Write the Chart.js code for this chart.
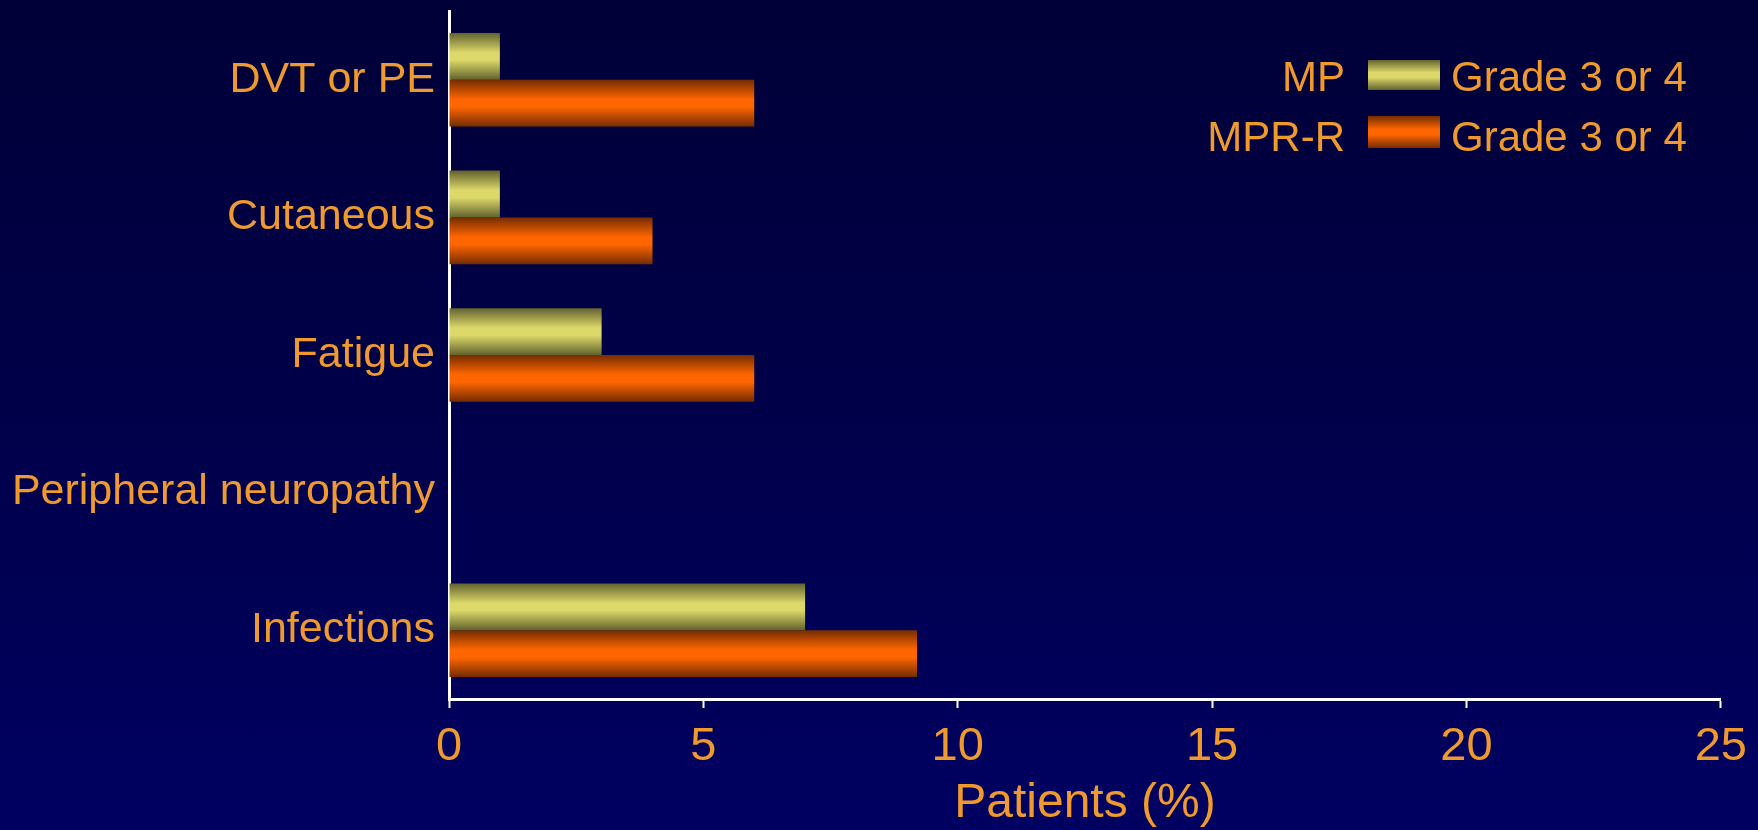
<!DOCTYPE html>
<html>
<head>
<meta charset="utf-8">
<script src="https://cdn.jsdelivr.net/npm/chart.js@4/dist/chart.umd.min.js"></script>
<style>
  html, body { margin: 0; padding: 0; }
  body { width: 1758px; height: 830px; overflow: hidden;
         background: linear-gradient(to bottom, #000038 0%, #00004a 50%, #000062 100%); }
  #wrap { position: relative; width: 1758px; height: 830px; }
</style>
</head>
<body>
<div id="wrap"><canvas id="chart" width="1758" height="830"></canvas></div>
<script>
// Adverse events, grade 3 or 4
const categories = ['DVT or PE', 'Cutaneous', 'Fatigue', 'Peripheral neuropathy', 'Infections'];
const mpValues = [1, 1, 3, 0, 7];
const mprrValues = [6, 4, 6, 0, 9.2];
const seriesNames = ['MP', 'MPR-R'];
const gradeText = 'Grade 3 or 4';
const xTicks = [0, 5, 10, 15, 20, 25];
const xTitle = 'Patients (%)';

const FONT = 'Arial, "Liberation Sans", Helvetica, sans-serif';
const TEXT = '#f09a2e';

// Bar shading: dark edges with a bright band in the middle
const shades = [
  { edge: '#62622e', mid: '#dcd86a' },
  { edge: '#742c00', mid: '#ff6600' }
];
const CAT_PCT = 0.68;

function shadeFill(dsIndex) {
  return function (ctx) {
    const chart = ctx.chart;
    const y = chart.scales && chart.scales.y;
    if (!chart.chartArea || !y || ctx.dataIndex === undefined) return shades[dsIndex].mid;
    const band = y.height / categories.length;
    const size = band * CAT_PCT / 2;
    const c = y.getPixelForValue(ctx.dataIndex);
    const top = dsIndex === 0 ? c - size : c;
    const g = chart.ctx.createLinearGradient(0, top, 0, top + size);
    g.addColorStop(0, shades[dsIndex].edge);
    g.addColorStop(0.42, shades[dsIndex].mid);
    g.addColorStop(0.58, shades[dsIndex].mid);
    g.addColorStop(1, shades[dsIndex].edge);
    return g;
  };
}

// Legend: series name, swatch, grade text
const sideLegend = {
  id: 'sideLegend',
  afterDraw(chart) {
    const ctx = chart.ctx;
    ctx.save();
    ctx.font = '42px ' + FONT;
    ctx.textBaseline = 'alphabetic';
    const rows = [
      { base: 91, boxTop: 60, boxH: 30 },
      { base: 151, boxTop: 116, boxH: 32 }
    ];
    chart.data.datasets.forEach((ds, i) => {
      const r = rows[i];
      ctx.textAlign = 'right';
      ctx.fillStyle = TEXT;
      ctx.fillText(ds.label, 1345, r.base);
      const g = ctx.createLinearGradient(0, r.boxTop, 0, r.boxTop + r.boxH);
      g.addColorStop(0, shades[i].edge);
      g.addColorStop(0.42, shades[i].mid);
      g.addColorStop(0.58, shades[i].mid);
      g.addColorStop(1, shades[i].edge);
      ctx.fillStyle = g;
      ctx.fillRect(1368, r.boxTop, 72, r.boxH);
      ctx.textAlign = 'left';
      ctx.fillStyle = TEXT;
      ctx.fillText(gradeText, 1451, r.base);
    });
    ctx.restore();
  }
};

new Chart(document.getElementById('chart'), {
  type: 'bar',
  data: {
    labels: categories,
    datasets: [
      { label: seriesNames[0], data: mpValues, backgroundColor: shadeFill(0) },
      { label: seriesNames[1], data: mprrValues, backgroundColor: shadeFill(1) }
    ]
  },
  options: {
    indexAxis: 'y',
    responsive: false,
    animation: false,
    events: [],
    categoryPercentage: CAT_PCT,
    barPercentage: 1.0,
    borderWidth: 0,
    layout: { padding: { top: 11, right: 37, left: 0, bottom: 0 } },
    plugins: {
      legend: { display: false },
      tooltip: { enabled: false }
    },
    scales: {
      x: {
        type: 'linear',
        min: 0,
        max: 25,
        afterBuildTicks: (s) => { s.ticks = xTicks.map(v => ({ value: v })); },
        afterFit: (s) => { s.height = 131; },
        grid: { drawOnChartArea: false, drawTicks: true, tickLength: 9, tickWidth: 2, color: '#ffffff' },
        border: { display: true, color: '#ffffff', width: 3 },
        ticks: { color: TEXT, font: { family: FONT, size: 47 }, padding: 11, maxRotation: 0 },
        title: {
          display: true, text: xTitle, color: TEXT,
          font: { family: FONT, size: 48 }, padding: { top: 0, bottom: -3 }
        }
      },
      y: {
        type: 'category',
        afterFit: (s) => { s.width = 449; s.paddingTop = 0; s.paddingBottom = 0; },
        grid: { display: false, drawTicks: false },
        border: { display: true, color: '#ffffff', width: 3 },
        ticks: { color: TEXT, font: { family: FONT, size: 43 }, padding: 14 }
      }
    }
  },
  plugins: [sideLegend]
});
</script>
</body>
</html>
